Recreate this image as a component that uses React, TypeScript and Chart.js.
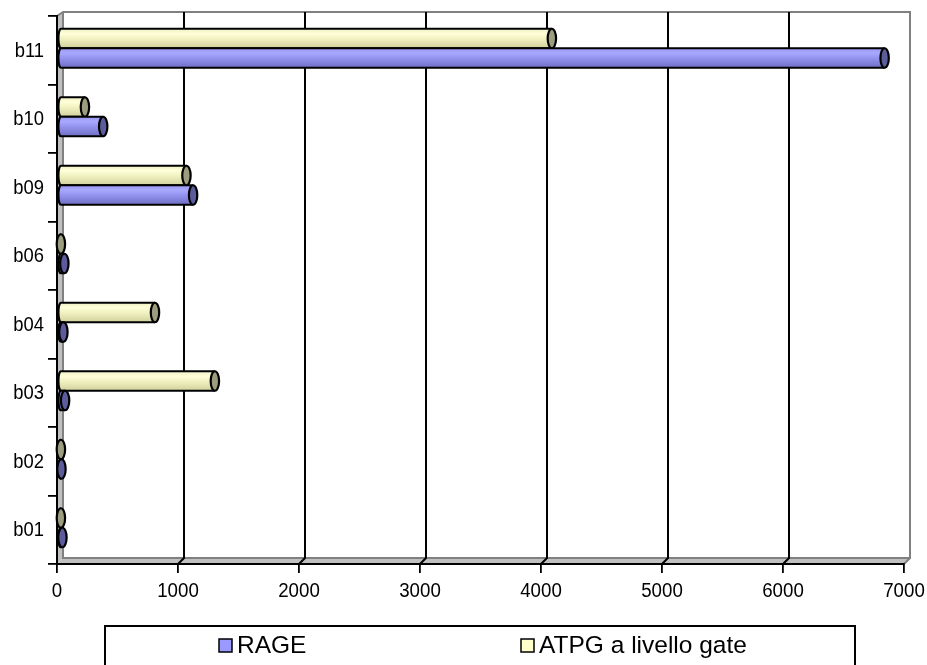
import React, { useEffect, useRef } from 'react';
import { Chart, registerables } from 'chart.js';

Chart.register(...registerables);

// ---- data ----
const categories = ['b01', 'b02', 'b03', 'b04', 'b06', 'b09', 'b10', 'b11'];
const rageValues = [20, 12, 42, 28, 36, 1100, 357, 6815];
const atpgValues = [5, 5, 1280, 785, 6, 1045, 206, 4065];
const seriesNames = ['RAGE', 'ATPG a livello gate'];
const xTickValues = [0, 1000, 2000, 3000, 4000, 5000, 6000, 7000];

const FONT = '"Liberation Sans", Arial, Helvetica, sans-serif';
const DX = 3;
const DY = -2;
const WALL_DX = 6;
const TEXT_SY = 1.13;

type CylStyle = { stops: [number, string][]; cap: string; legend: string };
const cylStyles: Record<string, CylStyle> = {
  RAGE: {
    stops: [
      [0, '#9898f0'],
      [0.25, '#a8a8ff'],
      [0.55, '#9090ec'],
      [1, '#6e6ec4'],
    ],
    cap: '#5c5c9c',
    legend: '#9999ff',
  },
  ATPG: {
    stops: [
      [0, '#f0f0c4'],
      [0.25, '#ffffd8'],
      [0.6, '#ececbb'],
      [1, '#d0d09c'],
    ],
    cap: '#9c9c7e',
    legend: '#ffffcc',
  },
};

function stretchedText(
  ctx: CanvasRenderingContext2D,
  text: string,
  x: number,
  y: number,
  size: number,
  align: CanvasTextAlign,
  baseline: CanvasTextBaseline,
  sy: number
) {
  ctx.save();
  ctx.translate(x, y);
  ctx.scale(1, sy);
  ctx.font = `${size}px ${FONT}`;
  ctx.textAlign = align;
  ctx.textBaseline = baseline;
  ctx.fillStyle = '#000';
  ctx.fillText(text, 0, 0);
  ctx.restore();
}

function drawCyl(ctx: CanvasRenderingContext2D, xb: number, xe: number, yc: number, h: number, st: CylStyle) {
  const r = h / 2;
  const rx = 4.2;
  const rxl = 2.5;
  const top = yc - r;
  const bot = yc + r;
  if (xe < xb) xe = xb;
  ctx.save();
  const g = ctx.createLinearGradient(0, top, 0, bot);
  st.stops.forEach(([o, c]) => g.addColorStop(o, c));
  ctx.beginPath();
  ctx.moveTo(xb, top);
  ctx.lineTo(xe, top);
  ctx.lineTo(xe, bot);
  ctx.lineTo(xb, bot);
  ctx.ellipse(xb, yc, rxl, r, 0, Math.PI / 2, (3 * Math.PI) / 2, false);
  ctx.closePath();
  ctx.fillStyle = g;
  ctx.fill();
  ctx.beginPath();
  ctx.moveTo(xe, top);
  ctx.lineTo(xb, top);
  ctx.ellipse(xb, yc, rxl, r, 0, (3 * Math.PI) / 2, Math.PI / 2, true);
  ctx.lineTo(xe, bot);
  ctx.strokeStyle = '#000';
  ctx.lineWidth = 2.2;
  ctx.stroke();
  ctx.beginPath();
  ctx.ellipse(xe, yc, rx, r, 0, 0, Math.PI * 2);
  ctx.fillStyle = st.cap;
  ctx.fill();
  ctx.stroke();
  ctx.restore();
}

const wallPlugin = {
  id: 'wall3d',
  beforeDraw(chart: any) {
    const { ctx, chartArea } = chart;
    const xs = chart.scales.x;
    const left = chartArea.left;
    const right = chartArea.right;
    const top = chartArea.top;
    const bottom = chartArea.bottom;
    const bTop = top - 4;
    const bBot = bottom - 6;
    ctx.save();
    ctx.beginPath();
    ctx.moveTo(left, top);
    ctx.lineTo(left + WALL_DX, bTop);
    ctx.lineTo(left + WALL_DX, bBot);
    ctx.lineTo(left, bottom);
    ctx.closePath();
    ctx.fillStyle = '#c0c0c0';
    ctx.fill();
    ctx.beginPath();
    ctx.moveTo(left, bottom);
    ctx.lineTo(left + WALL_DX, bBot);
    ctx.lineTo(right + WALL_DX, bBot);
    ctx.lineTo(right, bottom);
    ctx.closePath();
    ctx.fill();
    ctx.strokeStyle = '#808080';
    ctx.lineWidth = 2;
    ctx.beginPath();
    ctx.moveTo(left + WALL_DX, bTop);
    ctx.lineTo(left + WALL_DX, bBot);
    ctx.lineTo(right + WALL_DX, bBot);
    ctx.stroke();
    ctx.beginPath();
    ctx.moveTo(left, top);
    ctx.lineTo(left + WALL_DX, bTop);
    ctx.lineTo(right + WALL_DX, bTop);
    ctx.lineTo(right + WALL_DX, bBot);
    ctx.lineTo(right, bottom);
    ctx.stroke();
    ctx.strokeStyle = '#000';
    ctx.lineWidth = 2;
    xTickValues.forEach((v) => {
      if (v === 0 || v === xTickValues[xTickValues.length - 1]) return;
      const xf = xs.getPixelForValue(v);
      ctx.beginPath();
      ctx.moveTo(xf + WALL_DX, bTop);
      ctx.lineTo(xf + WALL_DX, bBot);
      ctx.lineTo(xf, bottom);
      ctx.stroke();
    });
    ctx.restore();
  },
};

const cylPlugin = {
  id: 'cyl',
  afterDatasetsDraw(chart: any) {
    const ctx = chart.ctx;
    chart.data.datasets.forEach((ds: any, di: number) => {
      const meta = chart.getDatasetMeta(di);
      const st = ds.label === seriesNames[0] ? cylStyles.RAGE : cylStyles.ATPG;
      meta.data.forEach((el: any) => {
        const p = el.getProps(['x', 'y', 'base', 'height'], true);
        drawCyl(ctx, p.base + DX, p.x + DX, p.y + DY, p.height, st);
      });
    });
  },
};

const axisLabelPlugin = {
  id: 'axisLabels',
  afterDraw(chart: any) {
    const ctx = chart.ctx;
    const xs = chart.scales.x;
    const ys = chart.scales.y;
    const bottom = chart.chartArea.bottom;
    xTickValues.forEach((v) => {
      stretchedText(ctx, String(v), xs.getPixelForValue(v), bottom + 17, 18.7, 'center', 'top', TEXT_SY);
    });
    categories.forEach((c, i) => {
      stretchedText(ctx, c, 44, ys.getPixelForValue(i) + 1, 18.4, 'right', 'middle', TEXT_SY);
    });
  },
};

const legendPlugin = {
  id: 'boxLegend',
  afterDraw(chart: any) {
    const ctx = chart.ctx;
    ctx.save();
    ctx.strokeStyle = '#000';
    ctx.lineWidth = 2;
    ctx.strokeRect(105, 626, 750, 60);
    const items = [
      { name: seriesNames[0], color: cylStyles.RAGE.legend, x: 219 },
      { name: seriesNames[1], color: cylStyles.ATPG.legend, x: 521 },
    ];
    items.forEach((it) => {
      ctx.fillStyle = it.color;
      ctx.fillRect(it.x, 639, 13, 13);
      ctx.lineWidth = 1.5;
      ctx.strokeStyle = '#000';
      ctx.strokeRect(it.x, 639, 13, 13);
      stretchedText(ctx, it.name, it.x + 18, 653, 24.5, 'left', 'alphabetic', 1.0);
    });
    ctx.restore();
  },
};

export default function App() {
  const ref = useRef<HTMLCanvasElement | null>(null);
  useEffect(() => {
    if (!ref.current) return;
    const chart = new Chart(ref.current, {
      type: 'bar',
      data: {
        labels: categories,
        datasets: [
          {
            label: seriesNames[1],
            data: atpgValues,
            backgroundColor: 'rgba(0,0,0,0)',
            borderWidth: 0,
            categoryPercentage: 0.57,
            barPercentage: 1,
          },
          {
            label: seriesNames[0],
            data: rageValues,
            backgroundColor: 'rgba(0,0,0,0)',
            borderWidth: 0,
            categoryPercentage: 0.57,
            barPercentage: 1,
          },
        ],
      },
      options: {
        indexAxis: 'y',
        animation: false,
        responsive: false,
        maintainAspectRatio: false,
        devicePixelRatio: 1,
        layout: { padding: { top: 16, right: 23, left: 0, bottom: 0 } },
        plugins: {
          legend: { display: false },
          tooltip: { enabled: false },
        },
        scales: {
          x: {
            type: 'linear',
            min: 0,
            max: 7000,
            afterFit: (s: any) => {
              s.height = 101;
            },
            afterBuildTicks: (s: any) => {
              s.ticks = xTickValues.map((v) => ({ value: v }));
            },
            ticks: { display: false },
            grid: {
              drawOnChartArea: false,
              drawTicks: true,
              tickLength: 9,
              color: '#000',
              lineWidth: 1.8,
            },
            border: { display: true, color: '#000', width: 2 },
          },
          y: {
            type: 'category',
            reverse: true,
            afterFit: (s: any) => {
              s.width = 57;
            },
            ticks: { display: false },
            grid: {
              offset: true,
              drawOnChartArea: false,
              drawTicks: true,
              tickLength: 9,
              color: '#000',
              lineWidth: 1.8,
            },
            border: { display: true, color: '#000', width: 2 },
          },
        },
      } as any,
      plugins: [wallPlugin, cylPlugin, axisLabelPlugin, legendPlugin],
    });
    return () => chart.destroy();
  }, []);

  return (
    <div
      style={{
        position: 'fixed',
        left: 0,
        top: 0,
        width: 927,
        height: 665,
        overflow: 'hidden',
        background: '#fff',
      }}
    >
      <canvas ref={ref} width={927} height={665} style={{ display: 'block', width: 927, height: 665 }} />
    </div>
  );
}
